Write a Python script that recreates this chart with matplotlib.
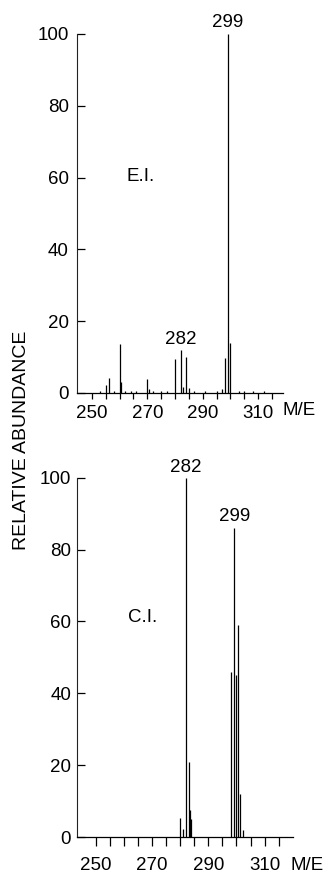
import numpy as np
import matplotlib
matplotlib.use('Agg')
import matplotlib.pyplot as plt

plt.rcParams['font.family'] = ['Liberation Sans', 'DejaVu Sans']

# electron impact spectrum
ei_mz = [253, 255, 256, 258, 260, 260.6, 262, 264, 266, 270, 270.6, 272, 275, 277,
         280, 282, 283, 284, 285, 287, 291, 295, 297, 298, 299, 300, 303, 305, 308, 312]
ei_ab = [0.6, 2.3, 4.2, 0.5, 13.7, 3.0, 0.6, 0.5, 0.6, 4.0, 1.0, 0.5, 0.6, 0.5,
         9.6, 11.9, 1.7, 10.0, 1.4, 0.5, 0.5, 0.6, 1.0, 9.7, 100, 14.0, 0.6, 0.5, 0.6, 0.5]

# chemical ionization spectrum
ci_mz = [280, 281, 282, 283, 283.5, 284, 298, 299.2, 299.7, 300.4, 301.4, 302.2]
ci_ab = [5.3, 2.3, 100, 21, 7.5, 5.0, 46, 86, 45, 59, 12, 2]

xlabels = [250, 270, 290, 310]
yticks = [0, 20, 40, 60, 80, 100]

FS = 13.5

fig = plt.figure(figsize=(3.23, 8.75), dpi=100)
ax1 = fig.add_axes([77 / 323, 1 - 393 / 875, 206 / 323, 359 / 875])
ax2 = fig.add_axes([76.7 / 323, 1 - 837 / 875, 216 / 323, 359.3 / 875])


def style(ax, xlim, xtick_len, xpad, ypad):
    ax.set_xlim(*xlim)
    ax.set_ylim(0, 100)
    for s in ['top', 'right']:
        ax.spines[s].set_visible(False)
    ax.spines['left'].set_linewidth(0.8)
    ax.spines['bottom'].set_linewidth(0.9)
    ax.spines['left'].set_color('#222222')
    ticks = np.arange(250, 320, 5)
    ax.set_xticks(ticks)
    ax.set_xticklabels([str(t) if t in xlabels else '' for t in ticks])
    ax.set_yticks(yticks)
    ax.set_yticklabels([str(t) for t in yticks])
    ax.tick_params(axis='x', direction='out', length=xtick_len, width=0.9,
                   pad=xpad, labelsize=FS)
    ax.tick_params(axis='y', direction='in', length=6, width=0.9,
                   pad=ypad, labelsize=FS)


style(ax1, (244.6, 319), 4.5, 4, 6)
style(ax2, (243.2, 320), 6.5, 8, 4)

ax1.vlines(ei_mz, 0, ei_ab, color='k', lw=0.9)
ax2.vlines(ci_mz, 0, ci_ab, color='k', lw=0.9)

# peak labels
ax1.annotate('299', xy=(299, 100), xytext=(0, 3), textcoords='offset pixels',
             ha='center', va='bottom', fontsize=FS, annotation_clip=False)
ax1.annotate('282', xy=(282, 11.9), xytext=(0, 2), textcoords='offset pixels',
             ha='center', va='bottom', fontsize=FS)
ax2.annotate('282', xy=(282, 100), xytext=(0, 2), textcoords='offset pixels',
             ha='center', va='bottom', fontsize=FS, annotation_clip=False)
ax2.annotate('299', xy=(299.2, 86), xytext=(0, 3), textcoords='offset pixels',
             ha='center', va='bottom', fontsize=FS)

ax1.text(267.7, 60.2, 'E.I.', ha='center', va='center', fontsize=13.5)
ax2.text(266.5, 61, 'C.I.', ha='center', va='center', fontsize=13.5)

ax1.annotate('M/E', xy=(324.9, 0), xytext=(0, -18), textcoords='offset pixels',
             ha='center', va='center', fontsize=FS, annotation_clip=False)
ax2.annotate('M/E', xy=(325.2, 0), xytext=(0, -28), textcoords='offset pixels',
             ha='center', va='center', fontsize=FS, annotation_clip=False)

fig.text(22 / 323, 1 - 440 / 875, 'RELATIVE ABUNDANCE', rotation=90,
         ha='center', va='center', fontsize=14)

fig.savefig('out.png', dpi=100)
